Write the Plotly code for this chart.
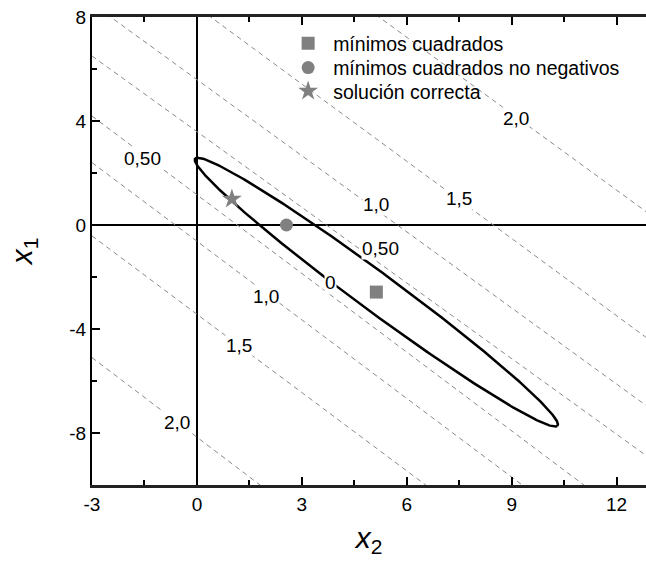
import numpy as np
import plotly.graph_objects as go

# ---------------- data ----------------
# dashed level lines: x1 value where each line meets x2 = -3, and its slope dx1/dx2
line_levels = ["2,0", "1,5", "1,0", "0,50", "0,50", "1,0", "1,5", "2,0"]
line_x1_at_left = [-5.10, -0.42, 2.40, 4.19, 6.50, 8.52, 11.36, 16.04]
line_slopes = [-1.02, -1.004, -1.008, -1.009, -0.97, -0.976, -0.99, -0.98]

# contour labels (x2, x1)
label_texts = ["0,50", "1,0", "1,5", "2,0", "0", "0,50", "1,0", "1,5", "2,0"]
label_x2 = [-1.56, 1.97, 1.20, -0.56, 3.83, 5.25, 5.11, 7.49, 9.11]
label_x1 = [2.57, -2.75, -4.65, -7.60, -2.22, -0.91, 0.80, 1.03, 4.10]

# zero-level ellipse: centre, end of major axis, half-width along (1, 1)
ellipse_center = (5.13, -2.58)   # (x2, x1)
ellipse_tip = (10.30, -7.73)     # (x2, x1)
ellipse_halfwidth = 0.46

# solutions (x2, x1)
series_names = ["mínimos cuadrados", "mínimos cuadrados no negativos", "solución correcta"]
series_x2 = [5.13, 2.56, 1.00]
series_x1 = [-2.58, 0.00, 1.00]
series_symbols = ["square", "circle", "star"]
series_sizes = [13, 13, 15]

x_ticks = [-3, 0, 3, 6, 9, 12]
x_ticktext = ["-3", "0", "3", "6", "9", "12"]
y_ticks = [8, 4, 0, -4, -8]
y_ticktext = ["8", "4", "0", "-4", "-8"]
x_range = [-3, 12.84]
y_range = [-10, 8]

FONT = "Liberation Sans, Arial, sans-serif"
GRAY = "#808080"

fig = go.Figure()

# dashed level lines
xa, xb = -3.0, 14.0
for lvl, y0, m in zip(line_levels, line_x1_at_left, line_slopes):
    fig.add_trace(go.Scatter(
        x=[xa, xb], y=[y0, y0 + m * (xb - xa)], mode="lines",
        line=dict(color="#8a8a8a", width=1, dash="5px,4px"),
        showlegend=False, hoverinfo="skip"))

# ellipse
t = np.linspace(0, 2 * np.pi, 400)
cx, cy = ellipse_center
ax_, ay_ = ellipse_tip[0] - cx, ellipse_tip[1] - cy
ex = cx + ax_ * np.cos(t) + ellipse_halfwidth * np.sin(t)
ey = cy + ay_ * np.cos(t) + ellipse_halfwidth * np.sin(t)
fig.add_trace(go.Scatter(x=ex, y=ey, mode="lines",
                         line=dict(color="black", width=2.5),
                         showlegend=False, hoverinfo="skip"))

# markers, each in its own legend box so rows can be spaced like the reference
legend_ids = ["legend", "legend2", "legend3"]
for name, x2, x1, sym, sz, lg in zip(series_names, series_x2, series_x1,
                                     series_symbols, series_sizes, legend_ids):
    fig.add_trace(go.Scatter(x=[x2], y=[x1], mode="markers", name=name, legend=lg,
                             marker=dict(symbol=sym, size=sz, color=GRAY,
                                         line=dict(width=0))))

# labels
for txt, x2, x1 in zip(label_texts, label_x2, label_x1):
    fig.add_annotation(x=x2, y=x1, text=txt, showarrow=False,
                       font=dict(family=FONT, size=19, color="black"),
                       bgcolor="white", borderpad=0)

legend_style = dict(xanchor="left", yanchor="top", bgcolor="rgba(0,0,0,0)",
                    font=dict(size=19.5, family=FONT), itemwidth=40)
fig.update_layout(
    width=646, height=563,
    margin=dict(l=92, r=0, t=17, b=78),
    plot_bgcolor="white", paper_bgcolor="white",
    font=dict(family=FONT, size=19, color="black"),
    legend=dict(x=0.345, y=0.985, **legend_style),
    legend2=dict(x=0.345, y=0.933, **legend_style),
    legend3=dict(x=0.345, y=0.883, **legend_style),
)
fig.update_xaxes(
    range=x_range, tickvals=x_ticks, ticktext=x_ticktext,
    ticks="inside", ticklen=8, tickwidth=1.5,
    tickcolor="black", showline=True, linecolor="#222", linewidth=2.5,
    mirror="allticks", showgrid=False,
    zeroline=True, zerolinecolor="black", zerolinewidth=2,
    minor=dict(dtick=1.5, ticks="inside", ticklen=5, tickwidth=1.5, tickcolor="black"),
    tickfont=dict(size=19),
    title=dict(text="<i>x</i><sub>2</sub>", font=dict(size=30), standoff=14),
)
fig.update_yaxes(
    range=y_range, tickvals=y_ticks, ticktext=y_ticktext,
    ticks="inside", ticklen=8, tickwidth=1.5,
    tickcolor="black", showline=True, linecolor="black", linewidth=2,
    mirror=False, showgrid=False,
    zeroline=True, zerolinecolor="black", zerolinewidth=2,
    minor=dict(dtick=2, ticks="inside", ticklen=5, tickwidth=1.5, tickcolor="black"),
    tickfont=dict(size=19),
    title=dict(text="<i>x</i><sub>1</sub>", font=dict(size=30), standoff=28),
)

fig.write_html("out.html")
